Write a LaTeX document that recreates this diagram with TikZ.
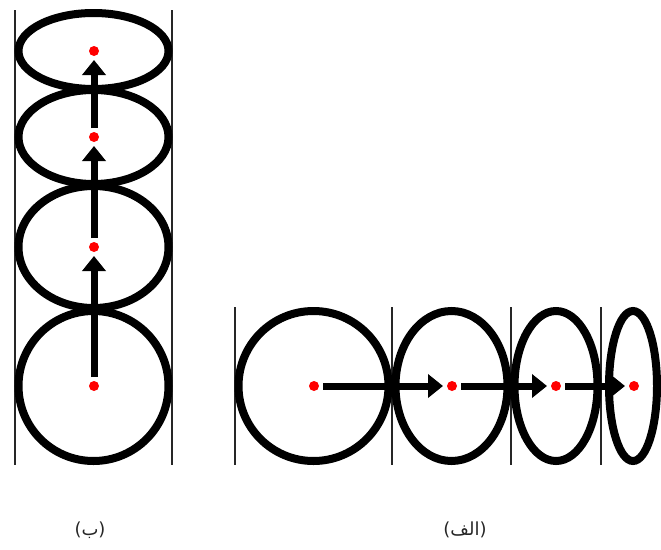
\documentclass[tikz,border=0pt]{standalone}
\usepackage{fontspec}
\usetikzlibrary{arrows.meta}
\newfontfamily\arabicfont[Script=Arabic]{DejaVu Sans}
\newfontfamily\parfont{DejaVu Sans}
\TeXXeTstate=1
\begin{document}
\begin{tikzpicture}[x=1pt,y=-1pt,
  ring/.style={draw=black,line width=8pt},
  wall/.style={draw=black!85,line width=1.8pt},
  dot/.style={circle,fill=red,inner sep=0pt,minimum size=10pt,outer sep=0pt},
  arr/.style={draw=black,line width=7pt,shorten <=4pt,shorten >=4pt,
    -{Triangle[length=15pt,width=23pt]}},
  lbl/.style={text=black!85,font=\fontsize{18}{20}\selectfont,inner sep=0pt}]
\useasboundingbox (0,0) rectangle (661,549);
% ---- left figure (b) ----
\draw[wall] (15,10) -- (15,465);
\draw[wall] (172,10) -- (172,465);
\draw[ring] (93.5,51) ellipse [x radius=75,y radius=38];
\draw[ring] (93.5,137) ellipse [x radius=75,y radius=47];
\draw[ring] (93.5,247) ellipse [x radius=75,y radius=61];
\draw[ring] (93.5,386) ellipse [x radius=75,y radius=75];
\node[dot] (b1) at (94,386) {};
\node[dot] (b2) at (94,247) {};
\node[dot] (b3) at (94,137) {};
\node[dot] (b4) at (94,51) {};
\draw[arr] (b1) -- (b2);
\draw[arr] (b2) -- (b3);
\draw[arr] (b3) -- (b4);
% ---- right figure (alef) ----
\draw[wall] (235,307) -- (235,465);
\draw[wall] (392,307) -- (392,465);
\draw[wall] (511,307) -- (511,465);
\draw[wall] (601,307) -- (601,465);
\draw[ring] (313.5,386) ellipse [x radius=75,y radius=75];
\draw[ring] (451.5,386) ellipse [x radius=56,y radius=75];
\draw[ring] (556,386) ellipse [x radius=41.5,y radius=75];
\draw[ring] (633,386) ellipse [x radius=24,y radius=75];
\node[dot] (a1) at (314,386) {};
\node[dot] (a2) at (452,386) {};
\node[dot] (a3) at (556,386) {};
\node[dot] (a4) at (634,386) {};
\draw[arr] (a1) -- (a2);
\draw[arr] (a2) -- (a3);
\draw[arr] (a3) -- (a4);
% ---- labels ----
\node[lbl] (lb) at (90,530) {\parfont(\arabicfont\beginR ب\endR\parfont)};
\node[lbl] (la) at (465,530) {\parfont(\arabicfont\beginR الف\endR\parfont)};
\end{tikzpicture}
\end{document}
